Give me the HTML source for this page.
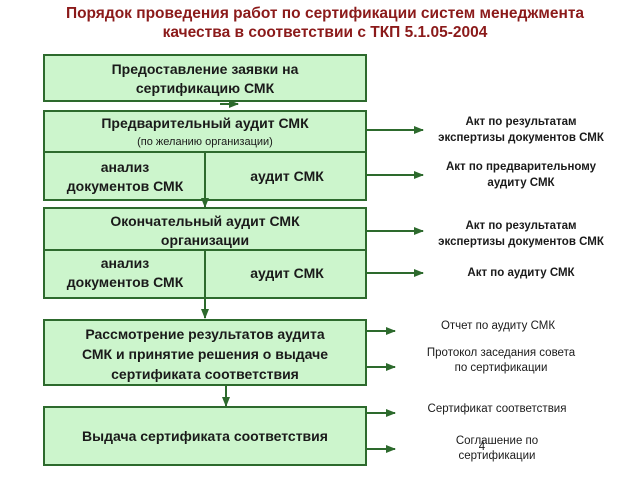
<!DOCTYPE html>
<html><head><meta charset="utf-8"><style>
html,body{margin:0;padding:0;background:#fff;}
svg{display:block;font-family:"Liberation Sans",Arial,sans-serif;}
.b{fill:#ccf5cc;stroke:#2d6a2d;stroke-width:2;}
.l{stroke:#2d6a2d;stroke-width:2;fill:none;}
.t{font-weight:bold;font-size:14px;fill:#1a1a1a;text-anchor:middle;}
.s{font-size:11.5px;fill:#1a1a1a;text-anchor:middle;}
.sb{font-size:11.5px;font-weight:bold;fill:#1a1a1a;text-anchor:middle;}
</style></head><body>
<svg width="640" height="480" viewBox="0 0 640 480">
<defs><marker id="a" markerWidth="10" markerHeight="8" refX="9" refY="4" orient="auto" markerUnits="userSpaceOnUse"><path d="M0,0 L10,4 L0,8 z" fill="#2d6a2d"/></marker></defs>
<text x="325" y="18" text-anchor="middle" font-size="15.5" font-weight="bold" fill="#8b1a1a">Порядок проведения работ по сертификации систем менеджмента</text>
<text x="325" y="37" text-anchor="middle" font-size="15.5" font-weight="bold" fill="#8b1a1a">качества в соответствии с ТКП 5.1.05-2004</text>

<rect class="b" x="44" y="55" width="322" height="46"/>
<text class="t" x="205" y="74">Предоставление заявки на</text>
<text class="t" x="205" y="93">сертификацию СМК</text>
<line class="l" x1="220" y1="104" x2="238" y2="104" marker-end="url(#a)"/>

<rect class="b" x="44" y="111" width="322" height="89"/>
<line class="l" x1="44" y1="152" x2="366" y2="152"/>
<line class="l" x1="205" y1="152" x2="205" y2="207" marker-end="url(#a)"/>
<text class="t" x="205" y="128">Предварительный аудит СМК</text>
<text x="205" y="145" font-size="11" text-anchor="middle" fill="#1a1a1a">(по желанию организации)</text>
<text class="t" x="125" y="172">анализ</text>
<text class="t" x="125" y="191">документов СМК</text>
<text class="t" x="287" y="181">аудит СМК</text>

<rect class="b" x="44" y="208" width="322" height="90"/>
<line class="l" x1="44" y1="250" x2="366" y2="250"/>
<line class="l" x1="205" y1="250" x2="205" y2="318" marker-end="url(#a)"/>
<text class="t" x="205" y="226">Окончательный аудит СМК</text>
<text class="t" x="205" y="245">организации</text>
<text class="t" x="125" y="268">анализ</text>
<text class="t" x="125" y="287">документов СМК</text>
<text class="t" x="287" y="278">аудит СМК</text>

<rect class="b" x="44" y="320" width="322" height="65"/>
<text class="t" x="205" y="339">Рассмотрение результатов аудита</text>
<text class="t" x="205" y="359">СМК и принятие решения о выдаче</text>
<text class="t" x="205" y="379">сертификата соответствия</text>
<line class="l" x1="226" y1="385" x2="226" y2="406" marker-end="url(#a)"/>

<rect class="b" x="44" y="407" width="322" height="58"/>
<text class="t" x="205" y="441">Выдача сертификата соответствия</text>

<line class="l" x1="367" y1="130" x2="423" y2="130" marker-end="url(#a)"/>
<line class="l" x1="367" y1="175" x2="423" y2="175" marker-end="url(#a)"/>
<line class="l" x1="367" y1="231" x2="423" y2="231" marker-end="url(#a)"/>
<line class="l" x1="367" y1="273" x2="423" y2="273" marker-end="url(#a)"/>
<line class="l" x1="367" y1="331" x2="395" y2="331" marker-end="url(#a)"/>
<line class="l" x1="367" y1="367" x2="395" y2="367" marker-end="url(#a)"/>
<line class="l" x1="367" y1="413" x2="395" y2="413" marker-end="url(#a)"/>
<line class="l" x1="367" y1="449" x2="395" y2="449" marker-end="url(#a)"/>

<text class="sb" x="521" y="125">Акт по результатам</text>
<text class="sb" x="521" y="141">экспертизы документов СМК</text>
<text class="sb" x="521" y="170">Акт по предварительному</text>
<text class="sb" x="521" y="186">аудиту СМК</text>
<text class="sb" x="521" y="229">Акт по результатам</text>
<text class="sb" x="521" y="245">экспертизы документов СМК</text>
<text class="sb" x="521" y="276">Акт по аудиту СМК</text>
<text class="s" x="498" y="329">Отчет по аудиту СМК</text>
<text class="s" x="501" y="356">Протокол заседания совета</text>
<text class="s" x="501" y="371">по сертификации</text>
<text class="s" x="497" y="412">Сертификат соответствия</text>
<text class="s" x="497" y="444">Соглашение по</text>
<text class="s" x="497" y="459">сертификации</text>
<text class="s" x="482" y="450" font-size="13">4</text>
</svg>
</body></html>
